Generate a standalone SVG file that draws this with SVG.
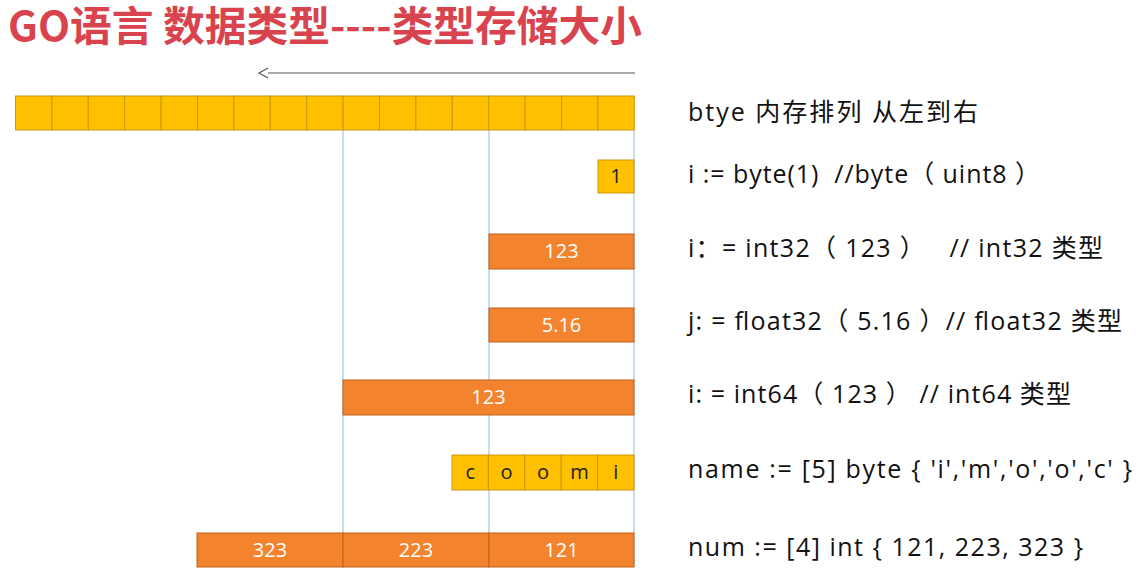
<svg xmlns="http://www.w3.org/2000/svg" width="1141" height="582" viewBox="0 0 1141 582">
<defs>
<marker id="arr" markerWidth="14" markerHeight="14" refX="1" refY="6" orient="auto" markerUnits="userSpaceOnUse">
<path d="M1,1 L10,6 L1,11" fill="none" stroke="#555" stroke-width="1.2"/>
</marker>
<style>
.title{font-family:"Noto Sans CJK SC","Noto Sans",sans-serif;font-weight:bold;font-size:41px;fill:#d9434e}
.code{font-family:"Open Sans","Noto Sans CJK SC",sans-serif;font-size:25px;fill:#111;white-space:pre}
.y{fill:#ffc000;stroke:#c9970a;stroke-width:1}
.o{fill:#f4832e;stroke:#c0621f;stroke-width:1}
.vl{stroke:#a9c3e3;stroke-width:1.2;fill:none}
.wt{font-family:"Open Sans","Noto Sans",sans-serif;font-size:20px;fill:#fff;text-anchor:middle}
.bt{font-family:"Open Sans","Noto Sans",sans-serif;font-size:20px;fill:#222;text-anchor:middle}
</style>
</defs>
<rect width="1141" height="582" fill="#fff"/>
<text class="title" x="8" y="41" textLength="634" lengthAdjust="spacingAndGlyphs">GO语言 数据类型----类型存储大小</text>

<g id="connectors">
<line x1="635" y1="73" x2="268" y2="73" stroke="#555" stroke-width="1.2" marker-end="url(#arr)"/>
<line class="vl" x1="343" y1="130" x2="343" y2="567"/>
<line class="vl" x1="489" y1="130" x2="489" y2="567"/>
<line class="vl" x1="634" y1="130" x2="634" y2="567"/>
</g>

<g id="byte-row">
<rect class="y" x="15.5" y="96" width="36.4" height="34"/>
<rect class="y" x="51.9" y="96" width="36.4" height="34"/>
<rect class="y" x="88.3" y="96" width="36.4" height="34"/>
<rect class="y" x="124.7" y="96" width="36.4" height="34"/>
<rect class="y" x="161.1" y="96" width="36.4" height="34"/>
<rect class="y" x="197.5" y="96" width="36.4" height="34"/>
<rect class="y" x="233.9" y="96" width="36.4" height="34"/>
<rect class="y" x="270.3" y="96" width="36.4" height="34"/>
<rect class="y" x="306.7" y="96" width="36.4" height="34"/>
<rect class="y" x="343.1" y="96" width="36.4" height="34"/>
<rect class="y" x="379.5" y="96" width="36.4" height="34"/>
<rect class="y" x="415.9" y="96" width="36.4" height="34"/>
<rect class="y" x="452.3" y="96" width="36.4" height="34"/>
<rect class="y" x="488.7" y="96" width="36.4" height="34"/>
<rect class="y" x="525.1" y="96" width="36.4" height="34"/>
<rect class="y" x="561.5" y="96" width="36.4" height="34"/>
<rect class="y" x="597.9" y="96" width="36.4" height="34"/>
</g>

<g id="byte1">
<rect class="y" x="598" y="160" width="36" height="33"/>
<text class="bt" x="616" y="183" font-size="18">1</text>
</g>

<g id="int32">
<rect class="o" x="489" y="234" width="145" height="35"/>
<text class="wt" x="561.5" y="258">123</text>
</g>

<g id="float32">
<rect class="o" x="489" y="308" width="145" height="34"/>
<text class="wt" x="561.5" y="332">5.16</text>
</g>

<g id="int64">
<rect class="o" x="343" y="380" width="291" height="35"/>
<text class="wt" x="488.5" y="404">123</text>
</g>

<g id="name">
<rect class="y" x="452" y="455" width="36.4" height="35"/>
<rect class="y" x="488.4" y="455" width="36.4" height="35"/>
<rect class="y" x="524.8" y="455" width="36.4" height="35"/>
<rect class="y" x="561.2" y="455" width="36.4" height="35"/>
<rect class="y" x="597.6" y="455" width="36.4" height="35"/>
<text class="bt" x="470.2" y="479">c</text>
<text class="bt" x="506.6" y="479">o</text>
<text class="bt" x="543" y="479">o</text>
<text class="bt" x="579.4" y="479">m</text>
<text class="bt" x="615.8" y="479">i</text>
</g>

<g id="num">
<rect class="o" x="197" y="533" width="146" height="34"/>
<rect class="o" x="343" y="533" width="146" height="34"/>
<rect class="o" x="489" y="533" width="145" height="34"/>
<text class="wt" x="270" y="557">323</text>
<text class="wt" x="416" y="557">223</text>
<text class="wt" x="561.5" y="557">121</text>
</g>

<g id="labels">
<text class="code" x="688" y="121" textLength="290">btye 内存排列 从左到右</text>
<text class="code" x="688" y="183" textLength="352">i := byte(1)  //byte（ uint8 ）</text>
<text class="code" x="688" y="257" textLength="415">i：= int32（ 123 ）   // int32 类型</text>
<text class="code" x="688" y="330" textLength="434">j: = float32（ 5.16 ）// float32 类型</text>
<text class="code" x="688" y="403" textLength="383">i: = int64（ 123 ） // int64 类型</text>
<text class="code" x="688" y="478" textLength="444">name := [5] byte { 'i','m','o','o','c' }</text>
<text class="code" x="688" y="556" textLength="395">num := [4] int { 121, 223, 323 }</text>
</g>
</svg>
